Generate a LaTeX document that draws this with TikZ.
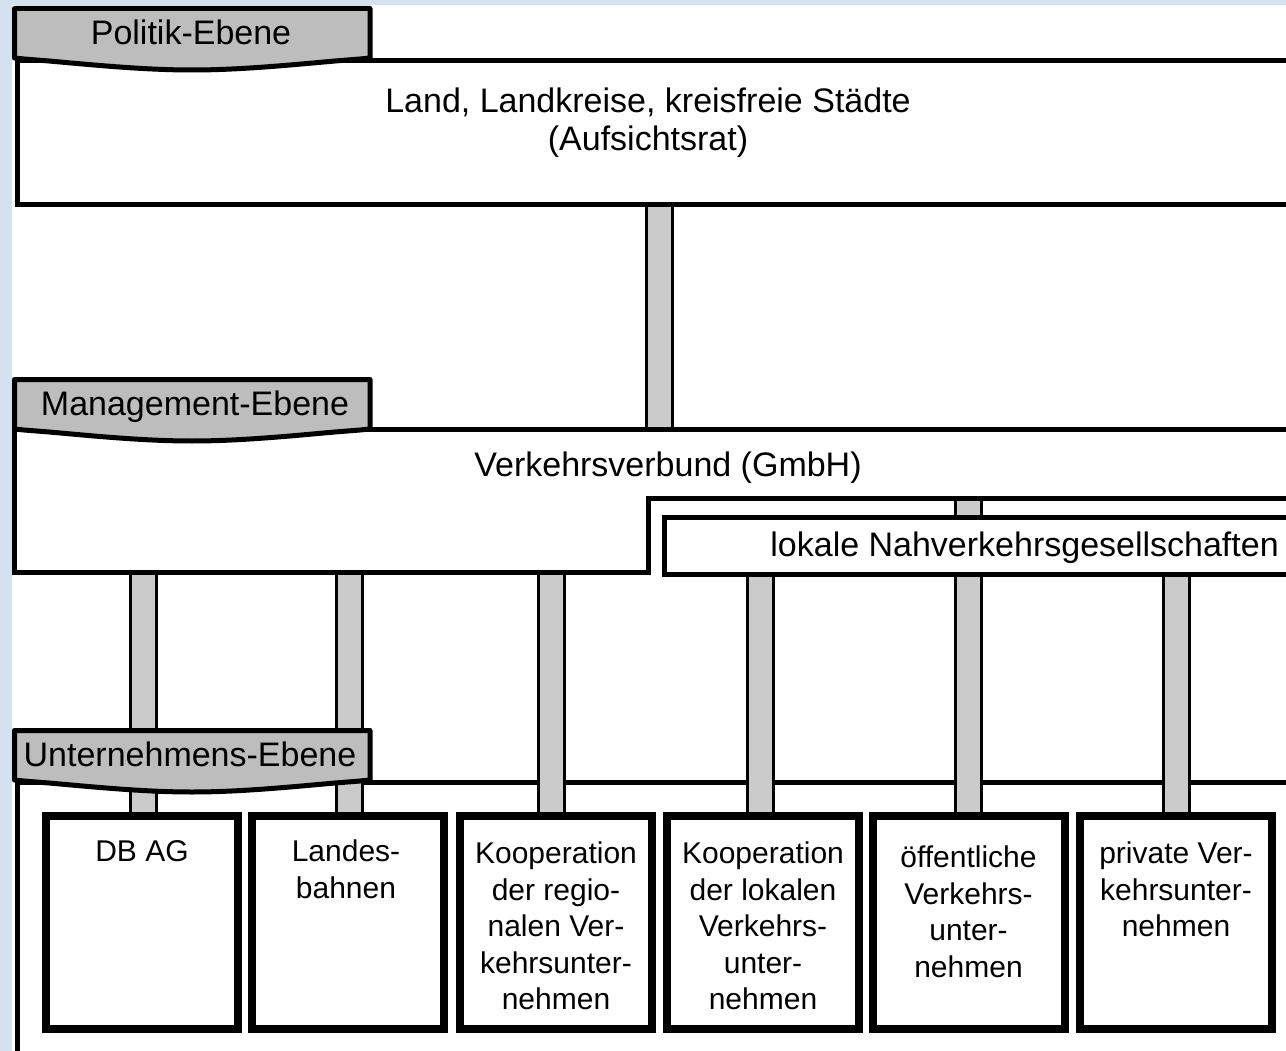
\documentclass[tikz,border=0pt]{standalone}
\usepackage{fontspec}
\setmainfont{Liberation Sans}
\definecolor{bgblue}{HTML}{D5E1EE}
\definecolor{tabgray}{HTML}{BDBDBD}
\definecolor{bargray}{HTML}{CBCBCB}
\pgfdeclarelayer{bglayer}
\pgfdeclarelayer{barlayer}
\pgfsetlayers{bglayer,barlayer,main}
\tikzset{
  frame/.style={draw=black, line width=5pt, fill=white, inner sep=0pt},
  bigtxt/.style={font=\fontsize{34}{40}\selectfont, inner sep=0pt},
  boxtxt/.style={font=\fontsize{30}{36.5}\selectfont, inner sep=0pt, align=center, anchor=north},
  ubox/.style={draw=black, line width=8pt, fill=white, minimum width=192pt, minimum height=213pt, inner sep=0pt},
  bar/.style={draw=black, line width=3pt, double=bargray, double distance=23pt},
  tabshape/.style={fill=tabgray, draw=black, line width=5pt, line join=round},
}
\begin{document}
\begin{tikzpicture}[x=1pt,y=-1pt]
\useasboundingbox (0,0) rectangle (1286,1051);
\clip (0,0) rectangle (1286,1051);

\begin{pgfonlayer}{bglayer}
\fill[bgblue] (0,0) rectangle (1286,1051);
\fill[white] (12,5) rectangle (1290,1060);
% Unternehmens box
\node[frame, anchor=north west, minimum width=1285.5pt, minimum height=300pt] (unt) at (14.5,780) {};
\end{pgfonlayer}

% Politik box
\node[frame, anchor=north west, minimum width=1285.5pt, minimum height=144.5pt] (pol) at (14.5,58) {};
% Management box (with notch)
\draw[frame] (14.5,429) -- (1300,429) -- (1300,498) -- (648,498) -- (648,572) -- (14.5,572) -- cycle;
\coordinate (mgmtT) at (657,429);
\coordinate (mgmtB) at (300,572);
\coordinate (mgmtN) at (900,498);
% lokale box
\node[frame, anchor=north west, minimum width=640pt, minimum height=57pt] (lok) at (662,515) {};

% company boxes
\node[ubox] (b1) at (142,922.5) {};
\node[ubox] (b2) at (348,922.5) {};
\node[ubox] (b3) at (556,922.5) {};
\node[ubox] (b4) at (763,922.5) {};
\node[ubox] (b5) at (968.5,922.5) {};
\node[ubox] (b6) at (1176,922.5) {};

% connectors (behind the boxes)
\begin{pgfonlayer}{barlayer}
\draw[bar] (pol.south) -- (pol.south |- mgmtT);
\draw[bar] ([xshift=1pt]b1.north |- mgmtB) -- ([xshift=1pt]b1.north);
\draw[bar] ([xshift=1pt]b2.north |- mgmtB) -- ([xshift=1pt]b2.north);
\draw[bar] ([xshift=-5pt]b3.north |- mgmtB) -- ([xshift=-5pt]b3.north);
\draw[bar] ([xshift=-3pt]b4.north |- lok.south) -- ([xshift=-3pt]b4.north);
\draw[bar] ([xshift=-0.5pt]b5.north |- mgmtN) -- ([xshift=-0.5pt]b5.north);
\draw[bar] (b6.north |- lok.south) -- (b6.north);
\end{pgfonlayer}

% level tabs
\foreach \L/\tx/\txt/\nm in {58/191/Politik-Ebene/tpol, 429/195/Management-Ebene/tman, 780/190/Unternehmens-Ebene/tunt} {
  \draw[tabshape] (14.5,\L) -- (14.5,\L-49.5) -- (370,\L-49.5) -- (370,\L) -- (360,\L+1)
     -- (335,\L+3) .. controls (290,\L+7) and (240,\L+12) .. (192,\L+12)
     .. controls (144,\L+12) and (94,\L+7) .. (49,\L+3) -- (24,\L+1) -- cycle;
  \node[bigtxt, anchor=base] (\nm) at (\tx,\L-13.5) {\txt};
}

% texts
\node[bigtxt, anchor=base] (land) at (648,113) {Land, Landkreise, kreisfreie Städte};
\node[bigtxt, anchor=base] (aufs) at (648,151) {(Aufsichtsrat)};
\node[bigtxt, anchor=base] (vv) at (668,476) {Verkehrsverbund (GmbH)};
\node[bigtxt, anchor=base east] (loktxt) at (1279,556) {lokale Nahverkehrsgesellschaften};

\node[boxtxt] (t1) at (142,836) {\strut DB AG};
\node[boxtxt] (t2) at (346,836) {\strut Landes-\\bahnen};
\node[boxtxt] (t3) at (556,838) {\strut Kooperation\\der regio-\\nalen Ver-\\kehrsunter-\\nehmen};
\node[boxtxt] (t4) at (763,838) {\strut Kooperation\\der lokalen\\Verkehrs-\\unter-\\nehmen};
\node[boxtxt] (t5) at (968.5,842) {\strut öffentliche\\Verkehrs-\\unter-\\nehmen};
\node[boxtxt] (t6) at (1176,838) {\strut private Ver-\\kehrsunter-\\nehmen};
\end{tikzpicture}
\end{document}
